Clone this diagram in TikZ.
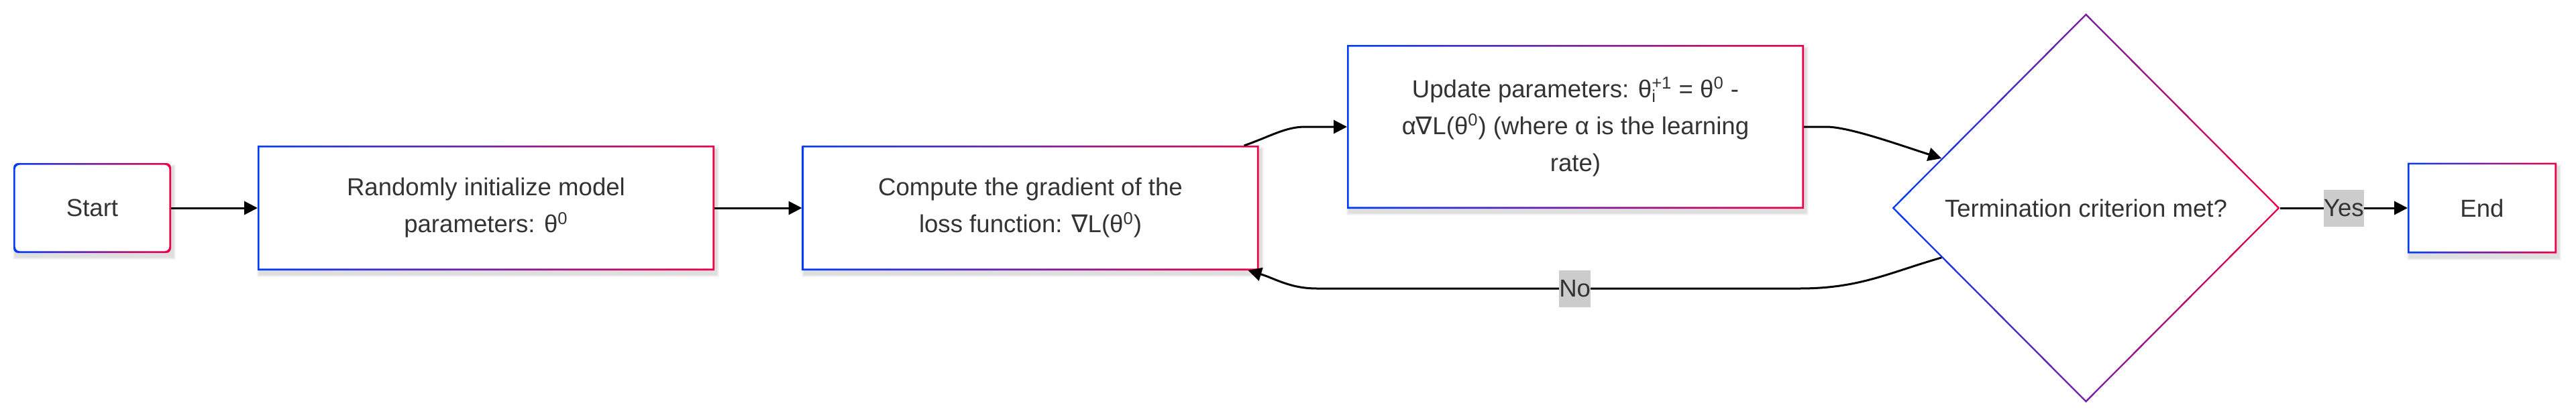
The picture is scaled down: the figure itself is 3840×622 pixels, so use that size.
\documentclass[tikz,border=0pt]{standalone}
\usepackage{fontspec}
\setmainfont{Liberation Sans}
\newfontfamily\dvs{DejaVu Sans}
\usetikzlibrary{arrows.meta,shapes.geometric,calc}
\definecolor{cblue}{RGB}{0,60,255}
\definecolor{cred}{RGB}{240,0,70}
\definecolor{txt}{HTML}{333333}
\definecolor{lblbg}{HTML}{CCCCCC}
\pgfdeclarelayer{background}
\pgfsetlayers{background,main}
\newcommand\fs{\fontsize{18.3pt}{27.5pt}\selectfont}
\newcommand\nab{{\dvs ∇}}
\def\bw{2.6}
\newcommand\shad[1]{\foreach \k in {1,...,4}{\fill[black,opacity=0.03] ([shift={(3-\k,6-\k)}]#1.north west) rectangle ([shift={(3+\k,6+\k)}]#1.south east);}}
\begin{document}
\begin{tikzpicture}[x=0.5pt,y=-0.5pt,
 box/.style={rectangle, fill=white, draw=none, inner sep=0pt, outer sep=0pt, align=center, text=txt, font=\fs},
 decision/.style={diamond, fill=white, draw=none, inner sep=0pt, outer sep=0pt, minimum width=289pt, minimum height=290pt, align=center, text=txt, font=\fs},
 arr/.style={draw=black, line width=1.5pt, -{Triangle[length=10pt,width=10pt]}},
 lbl/.style={fill=lblbg, text=txt, font=\fs, inner xsep=0pt, inner ysep=0pt, minimum height=27.5pt},
 gb/.style={left color=cblue, right color=cred, even odd rule},
]
\useasboundingbox (0,0) rectangle (3840,622);
\begin{pgfonlayer}{background}
\fill[white] (0,0) rectangle (3840,622);
\end{pgfonlayer}

\node[box, minimum width=117.5pt, minimum height=67pt, rounded corners=3.5pt] (start) at (137.5,310) {Start};
\node[box, minimum width=340.5pt, minimum height=93pt] (init) at (724.5,310) {Randomly initialize model\\parameters: θ\textsuperscript{0}};
\node[box, minimum width=340.5pt, minimum height=93pt] (grad) at (1536,310) {Compute the gradient of the\\loss function: \nab L(θ\textsuperscript{0})};
\node[box, minimum width=340.5pt, minimum height=122pt] (update) at (2348.5,189) {Update parameters: θ\rlap{\textsubscript{i}}\textsuperscript{+1} = θ\textsuperscript{0} -\\α\nab L(θ\textsuperscript{0}) (where α is the learning\\rate)};
\node[decision] (dia) at (3109.5,310) {Termination criterion met?};
\node[box, minimum width=111pt, minimum height=67.5pt] (endn) at (3700,310) {End};

\begin{pgfonlayer}{background}
\foreach \n in {start,init,grad,update,endn}{\shad{\n}}
\end{pgfonlayer}

% gradient borders
\shade[gb, rounded corners=3.5pt] (start.north west) rectangle (start.south east)
  ([shift={(\bw,\bw)}]start.north west) rectangle ([shift={(-\bw,-\bw)}]start.south east);
\foreach \n in {init,grad,update,endn}{
  \shade[gb] (\n.north west) rectangle (\n.south east)
    ([shift={(\bw,\bw)}]\n.north west) rectangle ([shift={(-\bw,-\bw)}]\n.south east);
}
\shade[gb] (dia.north) -- (dia.east) -- (dia.south) -- (dia.west) -- cycle
  ([shift={(0,3.3)}]dia.north) -- ([shift={(-3.3,0)}]dia.east) -- ([shift={(0,-3.3)}]dia.south) -- ([shift={(3.3,0)}]dia.west) -- cycle;

% connectors
\draw[arr] (start.east) -- (init.west);
\draw[arr] (init.east) -- (grad.west);
\draw[arr] ([xshift=-11pt]grad.north east) .. controls +(40,-14) and +(-30,0) .. ([xshift=-31pt]update.west) -- (update.west);
\draw[arr] (update.east) -- ++(33,0) .. controls +(35,0) and +(-60,-19) .. ($(dia.west)!0.255!(dia.north)$);
\draw[arr] ($(dia.west)!0.255!(dia.south)$) .. controls +(-80,23) and +(90,0) .. (2682,430)
  -- node[lbl, pos=0.465] (no) {No} (1963,430)
  .. controls +(-40,0) and +(40,12) .. ([xshift=-8pt]grad.south east);
\draw[arr] (dia.east) -- node[lbl] (yes) {Yes} (endn.west);
\end{tikzpicture}
\end{document}
